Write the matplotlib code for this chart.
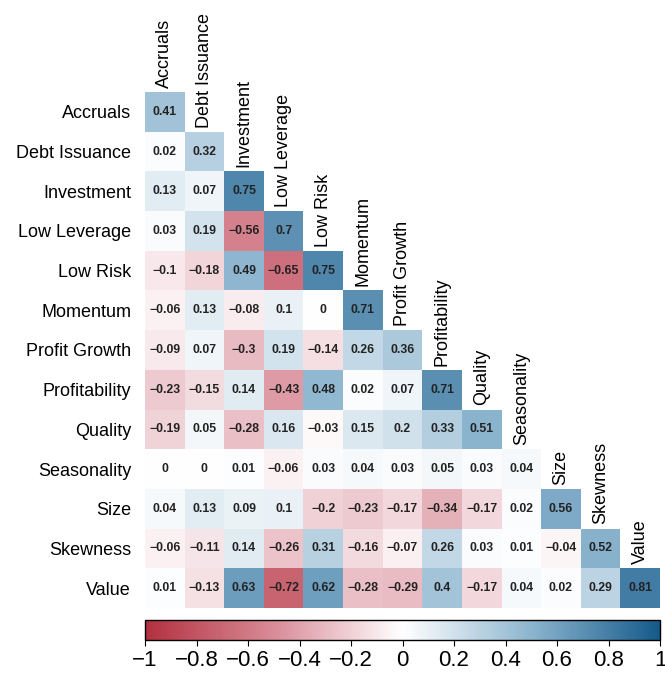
import numpy as np
import matplotlib
matplotlib.use("Agg")
import matplotlib.pyplot as plt
from matplotlib.colors import LinearSegmentedColormap

plt.rcParams['font.family'] = ['Liberation Sans', 'DejaVu Sans']

factors = ['Accruals', 'Debt Issuance', 'Investment', 'Low Leverage', 'Low Risk',
           'Momentum', 'Profit Growth', 'Profitability', 'Quality', 'Seasonality',
           'Size', 'Skewness', 'Value']

# lower triangle incl. diagonal, row by row
corr_rows = [
    [0.41],
    [0.02, 0.32],
    [0.13, 0.07, 0.75],
    [0.03, 0.19, -0.56, 0.7],
    [-0.1, -0.18, 0.49, -0.65, 0.75],
    [-0.06, 0.13, -0.08, 0.1, 0, 0.71],
    [-0.09, 0.07, -0.3, 0.19, -0.14, 0.26, 0.36],
    [-0.23, -0.15, 0.14, -0.43, 0.48, 0.02, 0.07, 0.71],
    [-0.19, 0.05, -0.28, 0.16, -0.03, 0.15, 0.2, 0.33, 0.51],
    [0, 0, 0.01, -0.06, 0.03, 0.04, 0.03, 0.05, 0.03, 0.04],
    [0.04, 0.13, 0.09, 0.1, -0.2, -0.23, -0.17, -0.34, -0.17, 0.02, 0.56],
    [-0.06, -0.11, 0.14, -0.26, 0.31, -0.16, -0.07, 0.26, 0.03, 0.01, -0.04, 0.52],
    [0.01, -0.13, 0.63, -0.72, 0.62, -0.28, -0.29, 0.4, -0.17, 0.04, 0.02, 0.29, 0.81],
]
cbar_ticks = [-1, -0.8, -0.6, -0.4, -0.2, 0, 0.2, 0.4, 0.6, 0.8, 1]

n = len(factors)
mat = np.full((n, n), np.nan)
for i, row in enumerate(corr_rows):
    mat[i, :len(row)] = row
mat = np.ma.masked_invalid(mat)

cmap = LinearSegmentedColormap.from_list(
    'rb', ['#b3303f', '#d98c98', '#ffffff', '#8db5cf', '#155a8a'])

W, H = 665, 675
fig = plt.figure(figsize=(W / 100, H / 100), dpi=100)
ax = fig.add_axes([145 / W, 1 - 608 / H, 515 / W, 516 / H])
mesh = ax.pcolormesh(np.arange(n + 1) - 0.5, np.arange(n + 1) - 0.5, mat,
                     cmap=cmap, vmin=-1, vmax=1)
ax.set_xlim(-0.5, n - 0.5)
ax.set_ylim(n - 0.5, -0.5)
for s in ax.spines.values():
    s.set_visible(False)
ax.set_xticks([])
ax.set_yticks(range(n))
ax.set_yticklabels(factors, fontsize=13)
ax.tick_params(axis='y', length=0, pad=10)

for i in range(n):
    for j in range(i + 1):
        v = mat[i, j]
        ax.text(j, i, f"{v:g}".replace('-', '\u2212'), ha='center', va='center',
                fontsize=8.8, fontweight='bold', color='#222222')
    ax.annotate(factors[i], xy=(i, i - 0.5), xytext=(0, 3), textcoords='offset points',
                rotation=90, ha='center', va='bottom', fontsize=13)

cax = fig.add_axes([145 / W, 1 - 640 / H, 515 / W, 20 / H])
cb = fig.colorbar(mesh, cax=cax, orientation='horizontal', ticks=cbar_ticks)
cb.outline.set_linewidth(1.0)
cb.ax.tick_params(labelsize=16, length=4, width=0.8, pad=3)
cb.ax.set_xticklabels([f"{t:g}".replace('-', '\u2212') for t in cbar_ticks])

fig.savefig('out.png', dpi=100)
